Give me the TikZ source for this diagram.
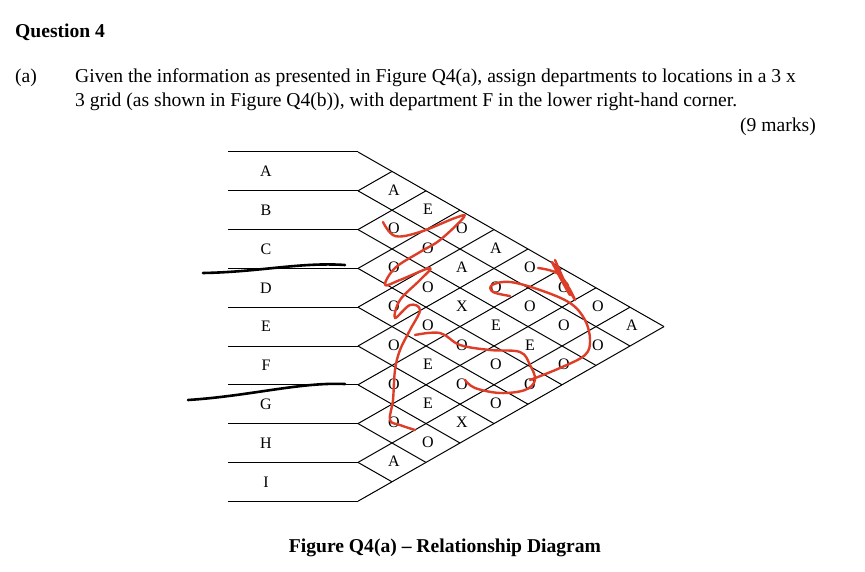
\documentclass[tikz,border=0pt]{standalone}
\usepackage{fontspec}
\setmainfont{Liberation Serif}
\definecolor{pen}{RGB}{222,62,40}
\begin{document}
\begin{tikzpicture}[x=1pt,y=-1pt,
  grid/.style={black,line width=1pt},
  lab/.style={font=\fontsize{16}{16}\selectfont,inner sep=0pt},
  body/.style={font=\fontsize{19.6}{24}\selectfont,inner sep=0pt,anchor=base west},
  scrib/.style={pen,line width=2.4pt,line cap=round,line join=round},
  blk/.style={black,line width=2.6pt,line cap=round}]
\useasboundingbox (0,0) rectangle (865,572);
\node[body,font=\bfseries\fontsize{19.6}{24}\selectfont] (q) at (15,38) {Question 4};
\node[body] (pa) at (15,83) {(a)};
\node[body] (txt1) at (75,83) {Given the information as presented in Figure Q4(a), assign departments to locations in a 3 x};
\node[body] (txt2) at (75,107) {3 grid (as shown in Figure Q4(b)), with department F in the lower right-hand corner.};
\node[body,anchor=base east] (mk) at (816,132) {(9 marks)};
\node[font=\bfseries\fontsize{19.6}{24}\selectfont,inner sep=0pt] (cap) at (445,548) {Figure Q4(a) -- Relationship Diagram};
\def\xo{358}\def\w{34}\def\h{19.4}
\foreach \k in {0,...,9}{
  \draw[grid] (228,{152+2*\k*\h}) -- (\xo,{152+2*\k*\h});
}
\foreach \k in {0,...,8}{
  \draw[grid] (\xo,{152+2*\k*\h}) -- ({\xo+(9-\k)*\w},{152+(9+\k)*\h});
}
\foreach \k in {1,...,9}{
  \draw[grid] (\xo,{152+2*\k*\h}) -- ({\xo+\k*\w},{152+\k*\h});
}
\foreach \n [count=\i from 0] in {A,B,C,D,E,F,G,H,I}{
  \node[lab] (r\n) at (266,{152+(2*\i+1)*\h}) {\n};
}
\foreach \i/\j/\t in {0/1/A,0/2/E,0/3/O,0/4/A,0/5/O,0/6/O,0/7/O,0/8/A,
  1/2/O,1/3/O,1/4/A,1/5/O,1/6/O,1/7/O,1/8/O,
  2/3/O,2/4/O,2/5/X,2/6/E,2/7/E,2/8/O,
  3/4/O,3/5/O,3/6/O,3/7/O,3/8/O,
  4/5/O,4/6/E,4/7/O,4/8/O,
  5/6/O,5/7/E,5/8/X,
  6/7/O,6/8/O,
  7/8/A}{
  \node[lab] (c\i\j) at ({\xo+(\j-\i)*\w+2},{152+(\i+\j+1)*\h-1}) {\t};
}
\draw[blk] (203,273) .. controls (260,272) and (300,262) .. (345,265);
\draw[blk] (188,400) .. controls (250,396) and (300,382) .. (345,384);
\draw[scrib] plot[smooth,tension=0.6] coordinates {(383,222)(395,236)(420,232)(455,218)(464,217)(440,240)(420,252)(395,268)(385,285)(400,280)(430,268)(420,280)(400,300)(395,318)(410,305)(420,310)(410,330)(400,350)(395,370)(393,400)(390,420)(400,425)(415,430)};
\draw[scrib] plot[smooth,tension=0.6] coordinates {(415,335)(440,333)(460,345)(490,350)(520,352)(530,365)(535,380)(525,390)(500,393)(475,388)(465,380)};
\draw[scrib] plot[smooth,tension=0.6] coordinates {(510,296)(493,292)(492,285)(510,282)(540,290)(570,303)(585,320)(590,340)(585,355)(560,368)(530,380)};
\draw[scrib] plot[smooth,tension=0.6] coordinates {(538,268)(560,275)(575,300)(552,262)(570,295)(555,260)};
\end{tikzpicture}
\end{document}
